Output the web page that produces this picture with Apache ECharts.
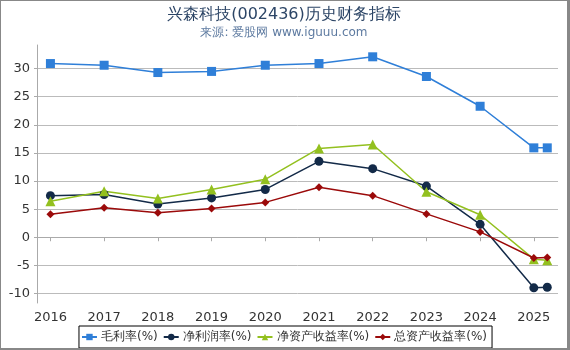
<!DOCTYPE html>
<html>
<head>
<meta charset="utf-8">
<script src="https://cdn.jsdelivr.net/npm/echarts@6/dist/echarts.min.js"></script>
<style>
  html, body { margin: 0; padding: 0; background: #fff; }
  #chart { width: 570px; height: 350px; box-sizing: border-box;
    border-style: solid; border-color: #888; border-width: 1px 3px 2px 1px; }
</style>
</head>
<body>
<div id="chart"></div>
<script>
// x positions: years, last point is 2025 Q1
const years = [2016, 2017, 2018, 2019, 2020, 2021, 2022, 2023, 2024, 2025, 2025.25];
const yearTicks = [2016, 2017, 2018, 2019, 2020, 2021, 2022, 2023, 2024, 2025];
const yTicks = [-10, -5, 0, 5, 10, 15, 20, 25, 30];

const grossMargin = [30.9, 30.6, 29.3, 29.5, 30.6, 30.9, 32.1, 28.6, 23.3, 15.9, 15.9];
const netMargin = [7.4, 7.6, 5.9, 7.0, 8.5, 13.5, 12.2, 9.1, 2.3, -9.0, -8.9];
const roe = [6.4, 8.2, 6.9, 8.5, 10.3, 15.8, 16.5, 8.1, 4.0, -3.9, -4.1];
const roa = [4.1, 5.25, 4.35, 5.1, 6.2, 8.9, 7.4, 4.15, 0.95, -3.7, -3.6];

const chart = echarts.init(document.getElementById("chart"));

function makeSeries(name, values, color, symbol, size) {
  return {
    name: name,
    type: "line",
    data: values.map((v, i) => [years[i], v]),
    symbol: symbol,
    symbolSize: size,
    lineStyle: { color: color, width: 1.5 },
    itemStyle: { color: color },
  };
}

const option = {
  animation: false,
  title: {
    text: "兴森科技(002436)历史财务指标",
    subtext: "来源: 爱股网 www.iguuu.com",
    left: "center",
    top: 1,
    itemGap: 4,
    textStyle: { fontSize: 16, fontWeight: "normal", color: "#2c4566", fontFamily: "DejaVu Sans" },
    subtextStyle: { fontSize: 12, color: "#5d7aa0", fontFamily: "DejaVu Sans" },
  },
  grid: { left: 36, right: 9, top: 44, bottom: 45 },
  legend: {
    bottom: 0,
    left: "center",
    itemWidth: 15,
    itemHeight: 8,
    itemGap: 5,
    padding: [5, 5, 5, 2],
    borderColor: "#000",
    borderWidth: 1,
    textStyle: { fontSize: 12, color: "#333", fontFamily: "DejaVu Sans", padding: [0, 0, 0, -1] },
    data: ["毛利率(%)", "净利润率(%)", "净资产收益率(%)", "总资产收益率(%)"],
  },
  xAxis: {
    type: "value",
    min: 2015.75,
    max: 2025.45,
    axisLine: { lineStyle: { color: "#aaa" } },
    axisTick: { show: true, length: 4, lineStyle: { color: "#aaa" }, customValues: yearTicks },
    axisLabel: {
      customValues: yearTicks,
      formatter: (v) => String(v),
      fontSize: 13, color: "#333", margin: 8, fontFamily: "DejaVu Sans",
    },
    splitLine: { show: false },
  },
  yAxis: {
    type: "value",
    min: -11.7,
    max: 34.2,
    axisLine: { show: true, lineStyle: { color: "#aaa" } },
    axisTick: { show: true, length: 3, lineStyle: { color: "#aaa" }, customValues: yTicks },
    axisLabel: { customValues: yTicks, fontSize: 13, color: "#333", margin: 7, fontFamily: "DejaVu Sans" },
    splitLine: { show: true, lineStyle: { color: "#bbb" } },
  },
  series: [
    makeSeries("毛利率(%)", grossMargin, "#2f7fd8", "rect", 9),
    makeSeries("净利润率(%)", netMargin, "#132a48", "circle", 9),
    makeSeries("净资产收益率(%)", roe, "#93c01f", "triangle", 10),
    makeSeries("总资产收益率(%)", roa, "#9b0a0a", "diamond", 8),
  ],
};
chart.setOption(option);
</script>
</body>
</html>
